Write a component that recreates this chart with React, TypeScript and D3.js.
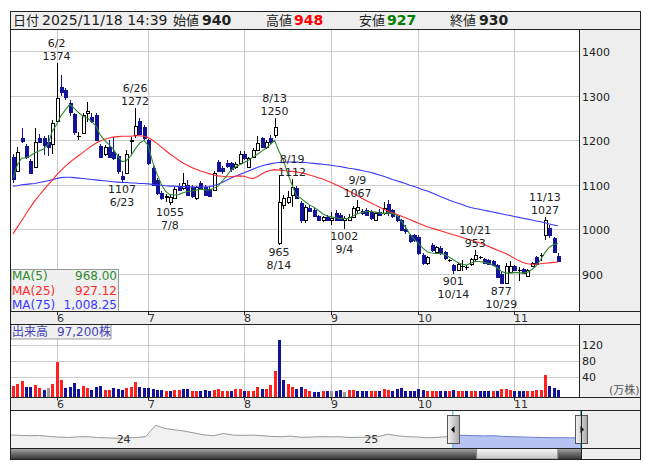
import React from 'react'
import * as d3 from 'd3'

const dates = ['5/19','5/20','5/21','5/22','5/23','5/26','5/27','5/28','5/29','5/30',
  '6/2','6/3','6/4','6/5','6/6','6/9','6/10','6/11','6/12','6/13','6/16','6/17','6/18','6/19','6/20','6/23','6/24','6/25','6/26','6/27','6/30',
  '7/1','7/2','7/3','7/4','7/7','7/8','7/9','7/10','7/11','7/14','7/15','7/16','7/17','7/18','7/22','7/23','7/24','7/25','7/28','7/29','7/30','7/31',
  '8/1','8/4','8/5','8/6','8/7','8/8','8/12','8/13','8/14','8/15','8/18','8/19','8/20','8/21','8/22','8/25','8/26','8/27','8/28','8/29',
  '9/1','9/2','9/3','9/4','9/5','9/8','9/9','9/10','9/11','9/12','9/16','9/17','9/18','9/19','9/22','9/24','9/25','9/26','9/29','9/30',
  '10/1','10/2','10/3','10/6','10/7','10/8','10/9','10/10','10/14','10/15','10/16','10/17','10/20','10/21','10/22','10/23','10/24','10/27','10/28','10/29','10/30','10/31',
  '11/4','11/5','11/6','11/7','11/10','11/11','11/12','11/13','11/14','11/17','11/18']

const opens = [1162,1130,1206,1187,1154,1139,1206,1206,1196,1192,
  1242,1319,1313,1284,1259,1209,1217,1262,1252,1257,
  1186,1169,1185,1174,1165,1120,1127,1198,1212,1242,
  1230,1200,1137,1111,1081,1072,1062,1070,1096,1092,
  1100,1096,1070,1103,1096,1090,1088,1152,1137,1150,
  1148,1140,1148,1170,1141,1163,1178,1204,1185,1205,
  1212,970,1055,1062,1077,1092,1060,1021,1049,1044,
  1029,1020,1028,1021,1037,1032,1020,1021,1027,1044,
  1041,1044,1040,1021,1040,1036,1058,1044,1030,1021,
  1000,987,987,984,943,924,965,950,958,950,
  931,920,909,918,915,922,933,937,933,931,
  930,920,900,879,905,918,909,912,896,917,
  939,942,988,1003,980,940]

const highs = [1170,1184,1227,1192,1158,1227,1215,1210,1212,1245,
  1374,1346,1318,1290,1262,1218,1262,1286,1260,1262,
  1192,1190,1200,1208,1170,1130,1178,1208,1272,1250,
  1235,1203,1142,1115,1086,1080,1080,1096,1104,1127,
  1111,1100,1098,1108,1100,1094,1130,1156,1142,1155,
  1152,1152,1175,1176,1162,1182,1210,1208,1200,1212,
  1250,1122,1078,1085,1112,1098,1063,1055,1054,1048,
  1033,1030,1032,1040,1044,1036,1030,1035,1052,1067,
  1046,1048,1044,1040,1045,1062,1065,1046,1034,1024,
  1010,990,990,988,946,940,970,963,962,952,
  934,923,925,932,920,935,953,940,936,933,
  932,922,905,925,930,921,915,914,912,926,
  941,947,1027,1010,983,948]

const lows = [1105,1128,1193,1158,1124,1137,1193,1167,1165,1170,
  1240,1300,1290,1255,1212,1200,1213,1241,1238,1199,
  1160,1165,1160,1155,1124,1107,1124,1170,1205,1212,
  1200,1145,1098,1078,1066,1062,1055,1068,1085,1088,
  1075,1070,1066,1088,1075,1072,1085,1128,1125,1138,
  1128,1136,1145,1155,1138,1160,1175,1182,1180,1192,
  1205,965,1045,1058,1051,1068,1015,1015,1040,1028,
  1018,1017,1020,1010,1018,1018,1002,1018,1025,1035,
  1033,1030,1022,1018,1030,1033,1030,1026,1016,996,
  990,970,972,943,920,921,950,947,943,932,
  928,901,906,906,910,919,930,934,922,920,
  919,892,877,878,903,908,885,900,893,915,
  921,930,976,980,948,927]

const closes = [1112,1174,1199,1162,1126,1195,1197,1190,1185,1238,
  1294,1308,1296,1264,1219,1209,1257,1265,1242,1201,
  1163,1184,1163,1159,1130,1112,1168,1201,1232,1215,
  1205,1148,1100,1081,1070,1075,1073,1090,1088,1103,
  1077,1074,1094,1092,1077,1074,1126,1130,1130,1142,
  1135,1146,1170,1159,1159,1178,1193,1185,1195,1196,
  1230,1062,1070,1073,1096,1070,1021,1051,1042,1029,
  1020,1027,1022,1026,1020,1021,1025,1028,1049,1050,
  1037,1032,1025,1036,1033,1049,1036,1029,1020,999,
  996,973,976,946,924,937,954,960,946,935,
  931,908,922,918,915,933,943,937,924,922,
  921,894,880,917,917,910,909,902,909,924,
  923,942,1021,988,950,930]

// 出来高 (万株)
const volumes = [18.6,23.5,31,15.3,15.3,21,12.8,8.7,12.8,23.5,
  79,33.4,12.8,17,26.8,11.1,18.6,14.4,8.7,17,
  18.6,8.7,8.7,12.8,10.3,8.7,14.4,17,29.3,17,
  14.4,12.8,11.1,8.7,8.7,7,7,8.7,8.7,10.3,
  10.3,7,7,7,8.7,7,8.7,11.1,7,7,
  7,11.1,11.1,7,7,7,17,10.3,10.3,21,
  56.5,132,33.4,23.5,17,11.1,17,10.3,7,4.5,
  4.5,6.2,6.2,6.2,6.2,8.7,4.5,8.7,8.7,7,
  7,7,5.4,5.4,6.2,10.3,8.7,7,10.3,12.8,
  7,7,7,10.3,8.7,7,7,7,7,7,
  5.4,8.7,5.4,5.4,5.4,5.4,7,5.4,5.4,5.4,
  7,7,10.3,11.1,8.7,7,7,5.4,5.4,7,
  8.7,8.7,46,18.6,14.4,9.72]

// change vs previous day: 1 up, -1 down, 0 unchanged
const volDir = [1,1,1,-1,-1,1,1,-1,0,1,
  1,1,-1,-1,-1,-1,1,1,-1,-1,
  -1,1,1,-1,-1,-1,1,1,1,-1,
  -1,-1,-1,-1,-1,1,-1,1,1,-1,
  -1,1,1,-1,-1,-1,1,1,1,1,
  -1,1,1,-1,1,1,1,-1,1,1,
  1,-1,-1,1,1,-1,-1,1,1,-1,
  -1,1,-1,0,-1,-1,0,1,1,-1,
  -1,-1,1,1,-1,1,1,-1,-1,-1,
  -1,-1,-1,-1,-1,1,1,1,-1,-1,
  1,-1,1,1,-1,1,1,-1,-1,-1,
  1,-1,1,1,1,-1,-1,-1,1,1,
  1,1,1,-1,-1,-1]

const ma5 = [1115,1145,1160,1160,1165,1172,1176,1180,1190,1220,
  1235,1255,1268,1280,1272,1262,1254,1250,1242,1232,
  1212,1200,1190,1180,1165,1152,1154,1165,1180,1193,
  1200,1188,1152,1125,1102,1085,1078,1077,1078,1082,
  1085,1086,1088,1090,1089,1088,1092,1097,1108,1120,
  1133,1140,1145,1150,1155,1162,1168,1175,1182,1190,
  1200,1175,1155,1125,1100,1075,1070,1062,1055,1050,
  1043,1035,1030,1028,1026,1024,1024,1025,1030,1035,
  1038,1040,1040,1039,1037,1036,1037,1036,1032,1020,
  1005,990,978,968,958,950,947,946,946,944,
  938,932,926,922,920,924,928,928,926,924,
  920,914,906,902,902,903,903,902,904,910,
  918,932,948,960,966,968]

const ma25 = [990,1005,1020,1035,1050,1064,1076,1088,1100,1110,
  1122,1132,1142,1150,1158,1165,1172,1180,1187,1193,
  1198,1202,1205,1207,1208,1209,1209,1209,1210,1210,
  1209,1206,1200,1193,1185,1177,1169,1162,1155,1149,
  1144,1139,1135,1131,1128,1125,1122,1120,1119,1118,
  1118,1119,1120,1119,1116,1114,1118,1124,1129,1132,
  1134,1133,1132,1131,1130,1129,1127,1125,1122,1119,
  1116,1113,1109,1105,1100,1096,1091,1086,1081,1076,
  1070,1065,1060,1055,1050,1045,1041,1037,1034,1030,
  1026,1022,1018,1014,1010,1006,1003,1000,997,994,
  991,988,985,982,979,976,973,970,966,962,
  958,954,950,946,941,935,930,926,923,922,
  922,923,924,925,926,927]

const ma75 = [1097,1098,1100,1101,1102,1103,1105,1107,1109,1111,
  1114,1116,1117,1117,1116,1115,1114,1113,1112,1111,
  1110,1109,1108,1107,1106,1105,1105,1104,1104,1103,
  1103,1102,1101,1100,1099,1098,1097,1097,1096,1096,
  1096,1095,1095,1095,1095,1096,1098,1101,1105,1110,
  1115,1119,1123,1127,1131,1135,1139,1142,1145,1147,
  1149,1150,1150,1151,1151,1151,1150,1150,1149,1148,
  1147,1146,1145,1144,1142,1141,1139,1137,1136,1134,
  1132,1130,1128,1125,1122,1119,1116,1112,1109,1106,
  1103,1099,1096,1093,1089,1086,1082,1078,1074,1070,
  1066,1062,1059,1056,1052,1049,1047,1045,1043,1041,
  1039,1037,1035,1033,1031,1029,1027,1025,1023,1021,
  1019,1017,1015,1012,1010,1008]

const maLegend = [
  { name: 'MA(5)', value: 968.0, color: '#2f8a2f' },
  { name: 'MA(25)', value: 927.12, color: '#ff2b2b' },
  { name: 'MA(75)', value: 1008.25, color: '#3838ff' },
]

const highMarks = ['6/2', '6/26', '8/13', '8/19', '9/9', '10/21', '11/13']
const lowMarks = ['6/23', '7/8', '8/14', '9/4', '10/14', '10/29']

const priceTicks = [900, 1000, 1100, 1200, 1300, 1400]
const volTicks = [40, 80, 120]

// navigator (long-term, bi-weekly)
const navValues = [1054,1040,1028,1035,1000,975,960,985,990,960,
  945,929,950,952,1000,1420,1300,1250,1200,1130,
  1060,1028,1110,1050,1040,1050,1030,1000,990,1010,
  967,975,990,985,990,960,967,970,990,1081,
  1028,990,980,952,960,990,1054,1040,1030,1020,
  1028,1000,990,980,967,960,952,952,950,950]
const navYears = [{ label: '24', at: 11.7 }, { label: '25', at: 37.3 }]
const navView = [45.75, 59]
const navThumb = [48.2, 56.6]

const FONT = "'DejaVu Sans', 'Noto Sans CJK JP', sans-serif"

const App = () => {
  const L = 10.5, R = 640.5, PR = 579.5, NR = 581
  const top = 11, hdrBot = 29.5, priceBot = 311.5, band1Bot = 324, volBot = 397, band2Bot = 410, navBot = 448, frameBot = 459.5
  const n = dates.length

  const x = d3.scaleLinear().domain([0, n - 1]).range([13, 558])
  const y = d3.scaleLinear().domain([900, 1400]).range([274, 51])
  const yv = d3.scaleLinear().domain([0, 120]).range([393.5, 345])
  const nx = d3.scaleLinear().domain([0, navValues.length - 1]).range([L, NR])
  const ny = d3.scaleLinear().domain([600, 2000]).range([navBot - 1, band2Bot])

  const idx = d3.range(n)
  const month = (d: string) => d.split('/')[0]
  const monthStarts = idx.filter(i => i > 0 && month(dates[i]) !== month(dates[i - 1]))
  const px = (i: number) => Math.round(x(i))

  const maPath = (vals: number[]) =>
    d3.line<number>().x((_, i) => x(i)).y(v => y(v))(vals) || ''

  const navLine = d3.line<number>().x((_, i) => nx(i)).y(v => ny(v))(navValues) || ''
  const navArea = d3.area<number>().x((_, i) => nx(i)).y0(navBot).y1(v => ny(v))(navValues) || ''
  const hv0 = nx(navView[0]), hv1 = nx(navView[1])

  const last = n - 1
  const fmt2 = d3.format(',.2f')
  const volShares = d3.format(',')(Math.round(volumes[last] * 10000))

  const lineC = '#222'
  const gridC = '#cccccc'
  const panelBg = '#eeeeee'
  const blue = '#13139a'

  return (
    <svg width={653} height={470} style={{ position: 'absolute', left: 0, top: 0 }}
      fontFamily={FONT}>
      <defs>
        <clipPath id="pclip"><rect x={L} y={hdrBot} width={PR - L} height={priceBot - hdrBot} /></clipPath>
        <clipPath id="hclip"><rect x={hv0} y={band2Bot} width={hv1 - hv0} height={navBot - band2Bot} /></clipPath>
        <linearGradient id="sbar" x1="0" y1="0" x2="0" y2="1">
          <stop offset="0" stopColor="#b0b0b0" />
          <stop offset="0.5" stopColor="#6a6a6a" />
          <stop offset="1" stopColor="#333" />
        </linearGradient>
        <linearGradient id="thumb" x1="0" y1="0" x2="0" y2="1">
          <stop offset="0" stopColor="#fafafa" />
          <stop offset="1" stopColor="#c4c4c4" />
        </linearGradient>
        <linearGradient id="handle" x1="0" y1="0" x2="1" y2="0">
          <stop offset="0" stopColor="#f4f4f4" />
          <stop offset="1" stopColor="#a8a8a8" />
        </linearGradient>
      </defs>

      {/* backgrounds */}
      <rect x={L} y={top} width={R - L} height={hdrBot - top} fill={panelBg} />
      <rect x={L} y={hdrBot} width={PR - L} height={priceBot - hdrBot} fill="#fff" />
      <rect x={PR} y={hdrBot} width={R - PR} height={priceBot - hdrBot} fill={panelBg} />
      <rect x={L} y={priceBot} width={R - L} height={band1Bot - priceBot} fill={panelBg} />
      <rect x={L} y={band1Bot} width={PR - L} height={volBot - band1Bot} fill="#fff" />
      <rect x={PR} y={band1Bot} width={R - PR} height={volBot - band1Bot} fill={panelBg} />
      <rect x={L} y={volBot} width={R - L} height={band2Bot - volBot} fill={panelBg} />
      <rect x={L} y={band2Bot} width={NR - L} height={navBot - band2Bot} fill="#fff" />
      <rect x={NR} y={band2Bot} width={R - NR} height={frameBot - band2Bot} fill={panelBg} />

      {/* header */}
      <g fill="#222">
        <text x={13} y={24.5} fontSize={13}>日付</text>
        <text x={42} y={24.5} fontSize={14}>2025/11/18 14:39</text>
        <text x={173} y={24.5} fontSize={13}>始値</text>
        <text x={202} y={24.5} fontSize={14} fontWeight="bold">{opens[last]}</text>
        <text x={266} y={24.5} fontSize={13}>高値</text>
        <text x={294} y={24.5} fontSize={14} fontWeight="bold" fill="#ff0000">{highs[last]}</text>
        <text x={359} y={24.5} fontSize={13}>安値</text>
        <text x={387} y={24.5} fontSize={14} fontWeight="bold" fill="#008000">{lows[last]}</text>
        <text x={450} y={24.5} fontSize={13}>終値</text>
        <text x={479} y={24.5} fontSize={14} fontWeight="bold">{closes[last]}</text>
      </g>

      {/* price grid */}
      {priceTicks.map(t => (
        <g key={t}>
          <line x1={L} x2={PR} y1={Math.round(y(t)) + 0.5} y2={Math.round(y(t)) + 0.5} stroke={gridC} />
          <text x={582} y={Math.round(y(t)) + 4.5} fontSize={11} fill="#222">{t}</text>
        </g>
      ))}
      {monthStarts.map(i => (
        <g key={i}>
          <line x1={px(i) + 0.5} x2={px(i) + 0.5} y1={hdrBot} y2={priceBot} stroke={gridC} />
          <line x1={px(i) + 0.5} x2={px(i) + 0.5} y1={band1Bot} y2={volBot} stroke={gridC} />
          <line x1={px(i) + 0.5} x2={px(i) + 0.5} y1={priceBot} y2={priceBot + 3.5} stroke={lineC} />
          <line x1={px(i) + 0.5} x2={px(i) + 0.5} y1={volBot} y2={volBot + 3.5} stroke={lineC} />
          <text x={px(i)} y={321.5} fontSize={11} fill="#333">{month(dates[i])}</text>
          <text x={px(i)} y={408} fontSize={11} fill="#333">{month(dates[i])}</text>
        </g>
      ))}

      {/* candles */}
      <g clipPath="url(#pclip)" shapeRendering="crispEdges">
        {idx.map(i => {
          const o = opens[i], c = closes[i]
          const p = px(i)
          const col = c > o ? '#000' : c < o ? blue : '#000'
          const yt = Math.round(y(Math.max(o, c)))
          const yb = Math.round(y(Math.min(o, c)))
          return (
            <g key={i}>
              <line x1={p + 0.5} x2={p + 0.5} y1={y(highs[i])} y2={y(lows[i])} stroke={col} />
              {c === o ? (
                <line x1={p - 1} x2={p + 3} y1={yt + 0.5} y2={yt + 0.5} stroke="#000" />
              ) : (
                <rect x={p - 0.5} y={yt + 0.5} width={3} height={Math.max(1, yb - yt)}
                  fill={c > o ? '#fff' : blue} stroke={col} />
              )}
            </g>
          )
        })}
        <path d={maPath(ma75)} fill="none" stroke={maLegend[2].color} strokeWidth={1.1} shapeRendering="auto" />
        <path d={maPath(ma25)} fill="none" stroke={maLegend[1].color} strokeWidth={1.1} shapeRendering="auto" />
        <path d={maPath(ma5)} fill="none" stroke={maLegend[0].color} strokeWidth={1.1} shapeRendering="auto" />
      </g>

      {/* peak / trough labels */}
      <g fontSize={11} fill="#222" textAnchor="middle">
        {highMarks.map(d => {
          const i = dates.indexOf(d)
          return (
            <g key={d}>
              <text x={x(i)} y={y(highs[i]) - 16}>{d}</text>
              <text x={x(i)} y={y(highs[i]) - 3}>{highs[i]}</text>
            </g>
          )
        })}
        {lowMarks.map(d => {
          const i = dates.indexOf(d)
          return (
            <g key={d}>
              <text x={x(i)} y={y(lows[i]) + 11}>{lows[i]}</text>
              <text x={x(i)} y={y(lows[i]) + 24}>{d}</text>
            </g>
          )
        })}
      </g>

      {/* MA legend */}
      <rect x={L + 0.5} y={269.5} width={107.5} height={priceBot - 269.5} fill="#f0f0f0" stroke="#999" />
      {maLegend.map((m, k) => (
        <g key={m.name} fontSize={12} fill={m.color}>
          <text x={12} y={280 + k * 14.5}>{m.name}</text>
          <text x={117} y={280 + k * 14.5} textAnchor="end">{fmt2(m.value)}</text>
        </g>
      ))}

      {/* volume */}
      {volTicks.map(t => (
        <g key={t}>
          <line x1={L} x2={PR} y1={Math.round(yv(t)) + 0.5} y2={Math.round(yv(t)) + 0.5} stroke={gridC} />
          <text x={582} y={Math.round(yv(t)) + 4} fontSize={11} fill="#222">{t}</text>
        </g>
      ))}
      <text x={609} y={394} fontSize={11} fill="#555">(万株)</text>
      <g shapeRendering="crispEdges">
        {idx.map(i => (
          <rect key={i} x={px(i) - 1} y={yv(volumes[i])} width={3} height={volBot - yv(volumes[i])}
            fill={volDir[i] > 0 ? '#ff2020' : volDir[i] < 0 ? blue : '#999'} />
        ))}
      </g>
      <rect x={L + 0.5} y={band1Bot + 0.5} width={100} height={14.5} fill="#f0f0f0" stroke="#999" />
      <text x={12} y={335.5} fontSize={12} fill="#4444b4">出来高</text>
      <text x={57} y={335.5} fontSize={12} fill="#4444b4">{volShares}株</text>

      {/* navigator */}
      <path d={navArea} fill="#f1f1f1" />
      <path d={navLine} fill="none" stroke="#999" />
      <g clipPath="url(#hclip)">
        <rect x={hv0} y={band2Bot} width={hv1 - hv0} height={navBot - band2Bot} fill="#fff" />
        <path d={navArea} fill="#b7c3f3" />
        <path d={navLine} fill="none" stroke="#6f7fd0" />
      </g>
      {navYears.map(yr => (
        <text key={yr.label} x={nx(yr.at)} y={443} fontSize={11} fill="#333" textAnchor="middle">{yr.label}</text>
      ))}
      <line x1={hv0} x2={hv0} y1={band2Bot} y2={navBot} stroke="#3cb4e6" />
      <line x1={hv1 - 0.5} x2={hv1 - 0.5} y1={band2Bot} y2={navBot} stroke="#3cb4e6" />
      {[hv0, hv1 - 0.5].map((hx, k) => (
        <g key={k}>
          <rect x={Math.round(hx) - 6 + 0.5} y={415.5} width={12} height={28} fill="url(#handle)" stroke="#555" />
          <path d={k === 0
            ? `M${Math.round(hx) + 1.5},${426} L${Math.round(hx) + 1.5},${433} L${Math.round(hx) - 2},${429.5} Z`
            : `M${Math.round(hx) - 0.5},${426} L${Math.round(hx) - 0.5},${433} L${Math.round(hx) + 3},${429.5} Z`}
            fill="#000" />
        </g>
      ))}

      {/* scrollbar */}
      <rect x={L} y={navBot} width={NR - L} height={frameBot - navBot} fill="url(#sbar)" />
      <rect x={nx(navThumb[0])} y={navBot + 0.5} width={nx(navThumb[1]) - nx(navThumb[0])} height={frameBot - navBot - 1}
        fill="url(#thumb)" stroke="#888" />

      {/* frame lines */}
      <g stroke={lineC} fill="none" shapeRendering="crispEdges">
        <rect x={L} y={top} width={R - L} height={frameBot - top} />
        {[hdrBot, priceBot, band1Bot, volBot, band2Bot, navBot].map(v => (
          <line key={v} x1={L} x2={R} y1={v} y2={v} />
        ))}
        <line x1={PR} x2={PR} y1={hdrBot} y2={priceBot} />
        <line x1={PR} x2={PR} y1={band1Bot} y2={volBot} />
        <line x1={NR} x2={NR} y1={band2Bot} y2={frameBot} />
      </g>
    </svg>
  )
}

export default App
